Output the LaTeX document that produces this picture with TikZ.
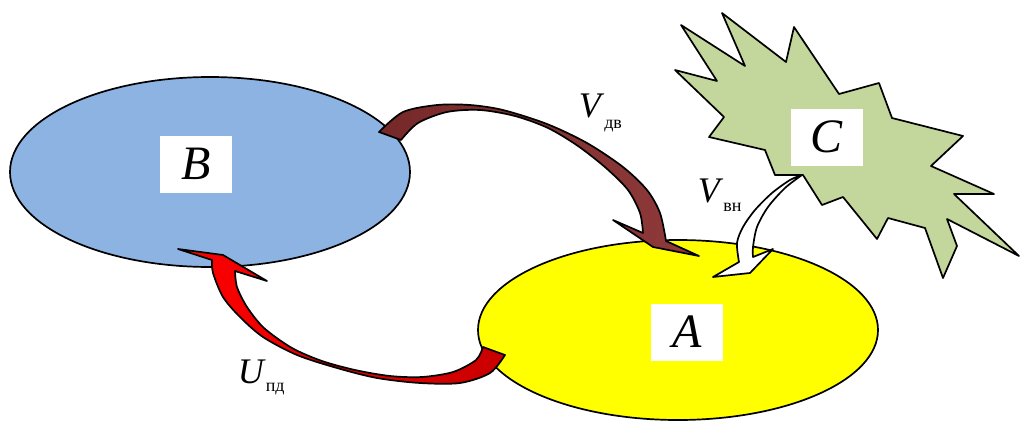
\documentclass[tikz,border=0pt]{standalone}
\usepackage{fontspec}
\setmainfont{Liberation Serif}
\usetikzlibrary{shapes.geometric}

\definecolor{setB}{RGB}{141,179,226}
\definecolor{setA}{RGB}{255,255,0}
\definecolor{setC}{RGB}{195,214,155}
\definecolor{flowdark}{RGB}{118,40,40}
\definecolor{flowbrown}{RGB}{143,58,58}
\definecolor{flowred}{RGB}{255,0,0}
\definecolor{flowdeep}{RGB}{200,0,0}

\newcommand{\flowlbl}[3]{\textit{#1}\raisebox{#3}{\fontsize{18}{18}\selectfont #2}}

\tikzset{
  region/.style={ellipse, draw, inner sep=0pt},
  tagbox/.style={fill=white, minimum width=72pt, minimum height=57pt, inner sep=0pt,
    font=\fontsize{48}{48}\selectfont\itshape},
  flowtag/.style={anchor=base west, inner sep=0pt, font=\fontsize{36}{36}\selectfont},
}

\begin{document}
\begin{tikzpicture}[line width=1.7pt, line join=round, x=1pt, y=-1pt]
  \useasboundingbox (0,0) rectangle (1021,423);

  % the three sets
  \node[region, fill=setB, minimum width=400pt, minimum height=190pt] (b) at (210,172) {};
  \node[region, fill=setA, minimum width=400pt, minimum height=180pt] (a) at (678,330) {};
  \filldraw[fill=setC] (722,13) -- (745,66) -- (681,25) -- (717,81) -- (675,70)
    -- (724,117) -- (709,137) -- (765,150) -- (775,175) -- (803,175) -- (822,205)
    -- (843,197) -- (877,239) -- (888,218) -- (925,228) -- (943,278) -- (957,246)
    -- (947,219) -- (1019,256) -- (954,194) -- (994,194) -- (931,166) -- (963,136)
    -- (892,118) -- (879,83) -- (839,94) -- (794,27) -- (786,62) -- cycle;

  % B -> A
  \draw[left color=flowdark, right color=flowbrown]
    plot[smooth] coordinates {(379,132) (403,112) (437,105) (470,105) (503,110)
      (547,124) (587,143) (623,167) (647,190) (660,213) (666,241)}
    -- (699,256) -- (653,247) -- (613,220) -- (643,233)
    -- plot[smooth] coordinates {(643,233) (640,213) (628,190) (606,168) (578,146)
      (548,128) (515,116) (480,110) (447,112) (418,123) (401,140)}
    -- cycle;

  % C -> A
  \draw[fill=white]
    plot[smooth] coordinates {(802,175) (785,188) (768,207) (757,227) (753,247) (753,257)}
    -- (773,249) -- (750,273) -- (713,277) -- (739,262)
    -- plot[smooth] coordinates {(739,262) (737,243) (743,227) (755,210) (772,193) (790,180) (802,175)}
    -- cycle;

  % A -> B
  \draw[left color=flowred, right color=flowdeep]
    plot[smooth] coordinates {(505,355) (490,373) (460,383) (420,383) (377,378)
      (337,368) (297,355) (263,337) (240,317) (223,297) (213,273) (212,260)}
    -- (178,249) -- (223,255) -- (267,281) -- (235,271)
    -- plot[smooth] coordinates {(235,271) (237,287) (247,307) (264,328) (292,348)
      (322,361) (355,370) (390,376) (422,377) (453,372) (476,360) (483,347)}
    -- cycle;

  % labels
  \node[tagbox] (bl) at (196,164) {B};
  \node[tagbox] (al) at (687,332) {A};
  \node[tagbox] (cl) at (827,137) {C};
  \node[flowtag] (vdv) at (578,117) {\flowlbl{V}{дв}{-11pt}};
  \node[flowtag] (vvn) at (697,202) {\flowlbl{V}{вн}{-9pt}};
  \node[flowtag] (upd) at (237,383) {\flowlbl{U}{пд}{-8pt}};
\end{tikzpicture}
\end{document}
